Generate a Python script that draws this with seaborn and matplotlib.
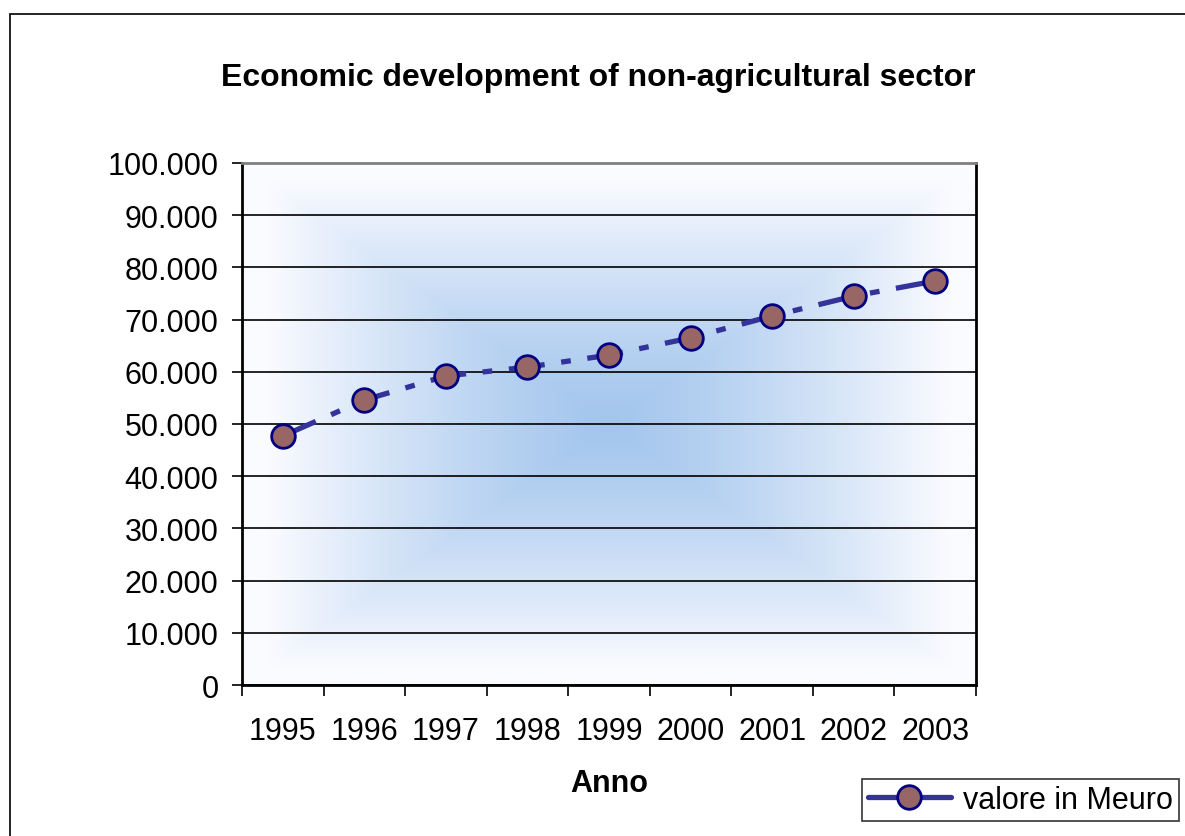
import numpy as np
import pandas as pd
import matplotlib
matplotlib.use("Agg")
import matplotlib.pyplot as plt
import seaborn as sns
from matplotlib.patches import Rectangle
from matplotlib.ticker import FuncFormatter, FixedLocator
from matplotlib.lines import Line2D

years = ["1995", "1996", "1997", "1998", "1999", "2000", "2001", "2002", "2003"]
values = [47700, 54600, 59200, 60900, 63200, 66500, 70700, 74500, 77400]
series_name = "valore in Meuro"
title = "Economic development of non-agricultural sector"
xlabel = "Anno"

sns.set_theme(style="white")
plt.rcParams['font.family'] = ['Liberation Sans', 'DejaVu Sans']
plt.rcParams['lines.scale_dashes'] = False
plt.rcParams['text.color'] = 'black'
plt.rcParams['xtick.color'] = 'black'
plt.rcParams['ytick.color'] = 'black'
plt.rcParams['axes.labelcolor'] = 'black'

fig = plt.figure(figsize=(11.85, 8.37), dpi=100)
fig.patch.set_facecolor("white")
ax = fig.add_axes([242/1185, 1-686/837, (976-242)/1185, (686-164)/837])

# outer chart border (extends past the right/bottom edge)
fig.patches.append(Rectangle((10/1185, -0.05), 1.2, 1-15/837+0.05, transform=fig.transFigure,
                             fill=False, edgecolor="black", linewidth=1.2, zorder=0))

# rectangular "from center" gradient background
n = 400
u = np.linspace(-1, 1, n)
U, V = np.meshgrid(u, u)
t = np.clip(np.maximum(np.abs(U), np.abs(V)) / 0.93, 0, 1) ** 1.3
center = np.array([164, 198, 237]) / 255
edge = np.array([250, 251, 255]) / 255
img = center[None, None, :] + (edge - center)[None, None, :] * t[..., None]
ax.imshow(img, extent=[0, 1, 0, 1], transform=ax.transAxes, aspect="auto", zorder=0)

df = pd.DataFrame({"Anno": years, "val": values})

sns.lineplot(data=df, x="Anno", y="val", ax=ax, color="#333399", linewidth=3.8,
             dashes=False, marker="o", markersize=17, markerfacecolor="#996666",
             markeredgecolor="#000080", markeredgewidth=2, zorder=3, legend=False)
line = ax.lines[-1]
line.set_dashes((26, 12, 7, 12))
line.set_dash_capstyle("butt")

ax.set_xlim(-0.5, len(years) - 0.5)
ax.set_ylim(0, 100000)
ax.set_yticks(np.arange(0, 100001, 10000))
ax.yaxis.set_major_formatter(FuncFormatter(lambda v, p: f"{int(v):,}".replace(",", ".")))
ax.grid(axis="y", color="black", linewidth=1.2, zorder=1)
ax.grid(axis="x", visible=False)
for gl in ax.get_ygridlines():
    gl.set_zorder(1)

ax.xaxis.set_minor_locator(FixedLocator(np.arange(-0.5, len(years), 1.0)))
ax.tick_params(axis="x", which="major", length=0, pad=22, labelsize=22, colors="black")
ax.tick_params(axis="x", which="minor", length=8, width=1.2, color="black", direction="out", bottom=True)
ax.tick_params(axis="y", which="major", length=7, width=1.2, color="black", direction="out",
               labelsize=22, pad=10, left=True, labelcolor="black")

for s in ["left", "bottom", "right"]:
    ax.spines[s].set_color("black")
    ax.spines[s].set_linewidth(2)
ax.spines["top"].set_color("#808080")
ax.spines["top"].set_linewidth(2)

ax.set_xlabel(xlabel, fontsize=22, fontweight="bold", labelpad=16, color="black")
ax.set_ylabel("")
fig.text(598/1185, 1-78/837, title, ha="center", va="center", fontsize=23, fontweight="bold",
         color="black")

handle = Line2D([], [], color="#333399", linewidth=3.8, marker="o", markersize=17,
                markerfacecolor="#996666", markeredgecolor="#000080", markeredgewidth=2)
leg = fig.legend([handle], [series_name], loc="upper left", bbox_to_anchor=(862/1185, 1-780/837),
                 fontsize=22, frameon=True, fancybox=False, edgecolor="black", handlelength=2.7,
                 borderpad=0.2, handletextpad=0.4, borderaxespad=0)
leg.get_frame().set_linewidth(1.2)
for txt in leg.get_texts():
    txt.set_color("black")

fig.savefig("out.png", dpi=100)
